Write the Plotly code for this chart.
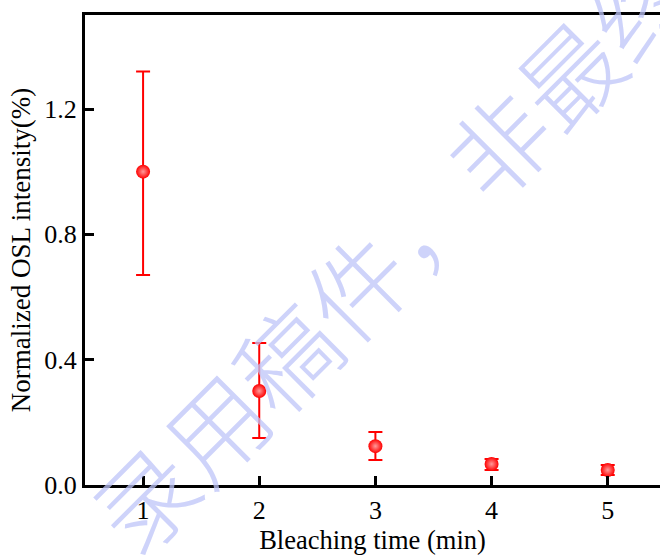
import plotly.graph_objects as go

bleach_time = [1, 2, 3, 4, 5]
osl = [1.0, 0.30, 0.124, 0.067, 0.048]
err_plus = [0.32, 0.153, 0.045, 0.016, 0.016]
err_minus = [0.33, 0.15, 0.044, 0.019, 0.016]

x_ticks = [1, 2, 3, 4, 5]
y_ticks = [0.0, 0.4, 0.8, 1.2]
y_tick_labels = ["0.0", "0.4", "0.8", "1.2"]

fig = go.Figure()
fig.add_trace(go.Scatter(
    x=bleach_time, y=osl, mode="markers",
    marker=dict(size=14, color="#ff0000", line=dict(width=0),
                gradient=dict(type="radial", color="#ff9a9a")),
    error_y=dict(type="data", symmetric=False, array=err_plus, arrayminus=err_minus,
                 color="#ff0000", thickness=2, width=7),
    showlegend=False,
))

font_serif = "Liberation Serif, Times New Roman, serif"

fig.update_layout(
    width=660, height=556,
    margin=dict(l=85, r=0, t=15, b=71),
    paper_bgcolor="white", plot_bgcolor="white",
    font=dict(family=font_serif, size=26, color="black"),
    xaxis=dict(
        range=[0.5, 5.45], tickvals=x_ticks, ticks="inside", ticklen=9, tickwidth=2.5,
        tickcolor="black", showline=True, linewidth=3, linecolor="black", mirror=True,
        showgrid=False, zeroline=False,
        title=dict(text="Bleaching time (min)", standoff=5, font=dict(size=26.5)),
        tickfont=dict(size=26),
    ),
    yaxis=dict(
        range=[0, 1.5], tickvals=y_ticks, ticktext=y_tick_labels, ticks="inside",
        ticklen=9, tickwidth=2.5, tickcolor="black", showline=True, linewidth=3,
        linecolor="black", showgrid=False, zeroline=False,
        title=dict(text="Normalized OSL intensity(%)", standoff=6, font=dict(size=27)),
        tickfont=dict(size=26),
    ),
)

fig.add_annotation(
    text="录用稿件，非最终版", xref="paper", yref="paper",
    x=(425 - 85) / 575, y=(485 - 213) / 470, xanchor="center", yanchor="middle",
    showarrow=False, textangle=-45,
    font=dict(family="Noto Sans CJK SC", size=100, weight=300,
              color="rgba(190,196,248,0.75)"),
)

fig.write_html("out.html")
